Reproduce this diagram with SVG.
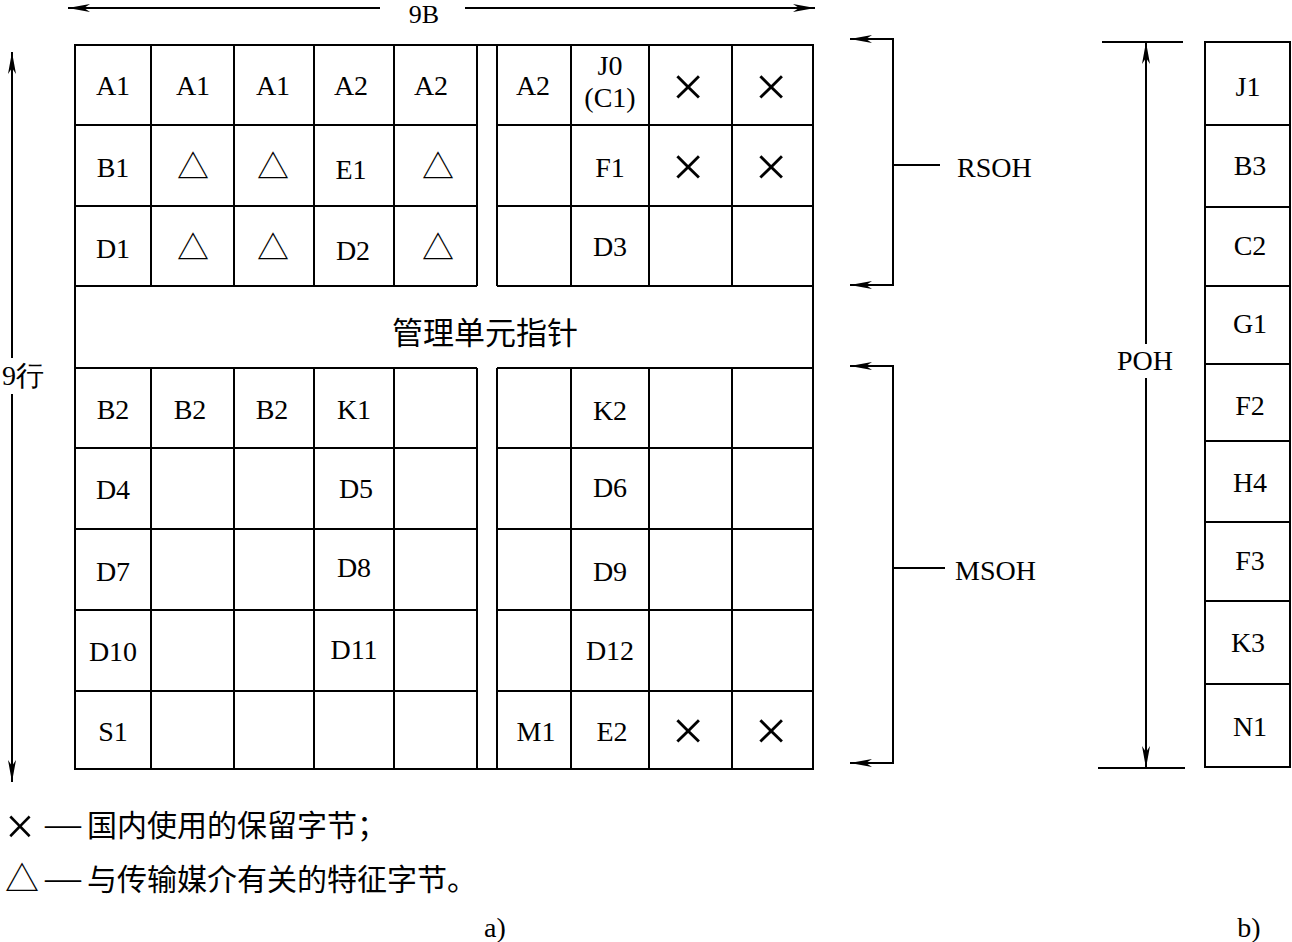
<svg xmlns="http://www.w3.org/2000/svg" width="1292" height="942" viewBox="0 0 1292 942">
<style>
.ln{stroke:#000;stroke-width:2;fill:none}
.t{font-family:"Liberation Serif","Times New Roman",serif;font-size:28px;text-anchor:middle;fill:#000}
.s{font-family:"Liberation Serif","Times New Roman",serif;font-size:28px;text-anchor:start;fill:#000}
.x{font-family:"Liberation Serif",serif;font-size:58px;text-anchor:middle;fill:#000}
.tri{font-family:"Noto Sans CJK SC",sans-serif;font-size:32px;text-anchor:middle;fill:#000}
.cjk{font-family:"Liberation Serif","Noto Sans CJK SC",sans-serif;font-size:30px;fill:#000}
</style>
<defs>
<marker id="ah" markerUnits="userSpaceOnUse" markerWidth="24" markerHeight="10" refX="22" refY="5" orient="auto-start-reverse" viewBox="0 0 24 10">
<path d="M0,1 L22,5 L0,9 L6,5 z" fill="#000"/>
</marker>
</defs>
<rect width="1292" height="942" fill="#fff"/>

<g id="frame" class="ln">
<rect x="75" y="45" width="738" height="724"/>
<path d="M75,125 H477 M497,125 H813 M75,206 H477 M497,206 H813 M75,286 H477 M497,286 H813"/>
<path d="M75,368 H477 M497,368 H813 M75,448 H477 M497,448 H813 M75,529 H477 M497,529 H813 M75,610 H477 M497,610 H813 M75,691 H477 M497,691 H813"/>
<path d="M477,45 V286 M497,45 V286 M477,368 V769 M497,368 V769"/>
<path d="M151,45 V286 M234,45 V286 M314,45 V286 M394,45 V286 M571,45 V286 M649,45 V286 M732,45 V286"/>
<path d="M151,368 V769 M234,368 V769 M314,368 V769 M394,368 V769 M571,368 V769 M649,368 V769 M732,368 V769"/>
</g>

<g id="cells">
<text class="t" x="113" y="95">A1</text>
<text class="t" x="193" y="95">A1</text>
<text class="t" x="273" y="95">A1</text>
<text class="t" x="351" y="95">A2</text>
<text class="t" x="431" y="95">A2</text>
<text class="t" x="533" y="95">A2</text>
<text class="t" x="610" y="75">J0</text>
<text class="t" x="610" y="107">(C1)</text>
<text class="x" x="688" y="106">×</text>
<text class="x" x="771" y="106">×</text>

<text class="t" x="113" y="177">B1</text>
<text class="tri" x="193" y="178">△</text>
<text class="tri" x="273" y="178">△</text>
<text class="t" x="351" y="179">E1</text>
<text class="tri" x="438" y="178">△</text>
<text class="t" x="610" y="177">F1</text>
<text class="x" x="688" y="186">×</text>
<text class="x" x="771" y="186">×</text>

<text class="t" x="113" y="258">D1</text>
<text class="tri" x="193" y="259">△</text>
<text class="tri" x="273" y="259">△</text>
<text class="t" x="353" y="260">D2</text>
<text class="tri" x="438" y="259">△</text>
<text class="t" x="610" y="256">D3</text>
</g>

<g id="pointer">
<text class="cjk" x="485" y="344" style="text-anchor:middle;font-size:31px">管理单元指针</text>
</g>

<g id="cells-lower">
<text class="t" x="113" y="419">B2</text>
<text class="t" x="190" y="419">B2</text>
<text class="t" x="272" y="419">B2</text>
<text class="t" x="354" y="419">K1</text>
<text class="t" x="610" y="420">K2</text>
<text class="t" x="113" y="499">D4</text>
<text class="t" x="356" y="498">D5</text>
<text class="t" x="610" y="497">D6</text>
<text class="t" x="113" y="581">D7</text>
<text class="t" x="354" y="577">D8</text>
<text class="t" x="610" y="581">D9</text>
<text class="t" x="113" y="661">D10</text>
<text class="t" x="354" y="659">D11</text>
<text class="t" x="610" y="660">D12</text>
<text class="t" x="113" y="741">S1</text>
<text class="t" x="536" y="741">M1</text>
<text class="t" x="612" y="741">E2</text>
<text class="x" x="688" y="750">×</text>
<text class="x" x="771" y="750">×</text>
</g>

<g id="connectors" class="ln">
<path d="M380,8 H68" marker-end="url(#ah)"/>
<path d="M465,8 H815" marker-end="url(#ah)"/>
<path d="M12,358 V52" marker-end="url(#ah)"/>
<path d="M12,394 V782" marker-end="url(#ah)"/>
<path d="M850,39 H893 V285 H850" marker-start="url(#ah)" marker-end="url(#ah)"/>
<path d="M893,165 H940"/>
<path d="M850,366 H893 V763 H850" marker-start="url(#ah)" marker-end="url(#ah)"/>
<path d="M893,568 H945"/>
<path d="M1146,344 V42" marker-end="url(#ah)"/>
<path d="M1146,378 V768" marker-end="url(#ah)"/>
<path d="M1102,42 H1183 M1098,768 H1185"/>
</g>

<g id="labels">
<text class="t" x="424" y="23" style="font-size:26px">9B</text>
<text class="t" x="23" y="385">9行</text>
<text class="s" x="957" y="177">RSOH</text>
<text class="s" x="955" y="580">MSOH</text>
<text class="t" x="1145" y="370">POH</text>
</g>

<g id="poh">
<rect class="ln" x="1205" y="42" width="85" height="725"/>
<path class="ln" d="M1205,125 H1290 M1205,207 H1290 M1205,286 H1290 M1205,364 H1290 M1205,441 H1290 M1205,522 H1290 M1205,601 H1290 M1205,684 H1290"/>
<text class="t" x="1248" y="96">J1</text>
<text class="t" x="1250" y="175">B3</text>
<text class="t" x="1250" y="255">C2</text>
<text class="t" x="1250" y="333">G1</text>
<text class="t" x="1250" y="415">F2</text>
<text class="t" x="1250" y="492">H4</text>
<text class="t" x="1250" y="570">F3</text>
<text class="t" x="1248" y="652">K3</text>
<text class="t" x="1250" y="736">N1</text>
</g>

<g id="legend">
<text class="x" x="20" y="844" style="font-size:52px">×</text>
<text class="cjk" x="45" y="836" style="font-size:36px">—</text>
<text class="cjk" x="87" y="836">国内使用的保留字节；</text>
<text class="tri" x="22" y="891" style="font-size:34px">△</text>
<text class="cjk" x="45" y="890" style="font-size:36px">—</text>
<text class="cjk" x="87" y="890">与传输媒介有关的特征字节。</text>
<text class="t" x="495" y="937">a)</text>
<text class="t" x="1249" y="937">b)</text>
</g>
</svg>
